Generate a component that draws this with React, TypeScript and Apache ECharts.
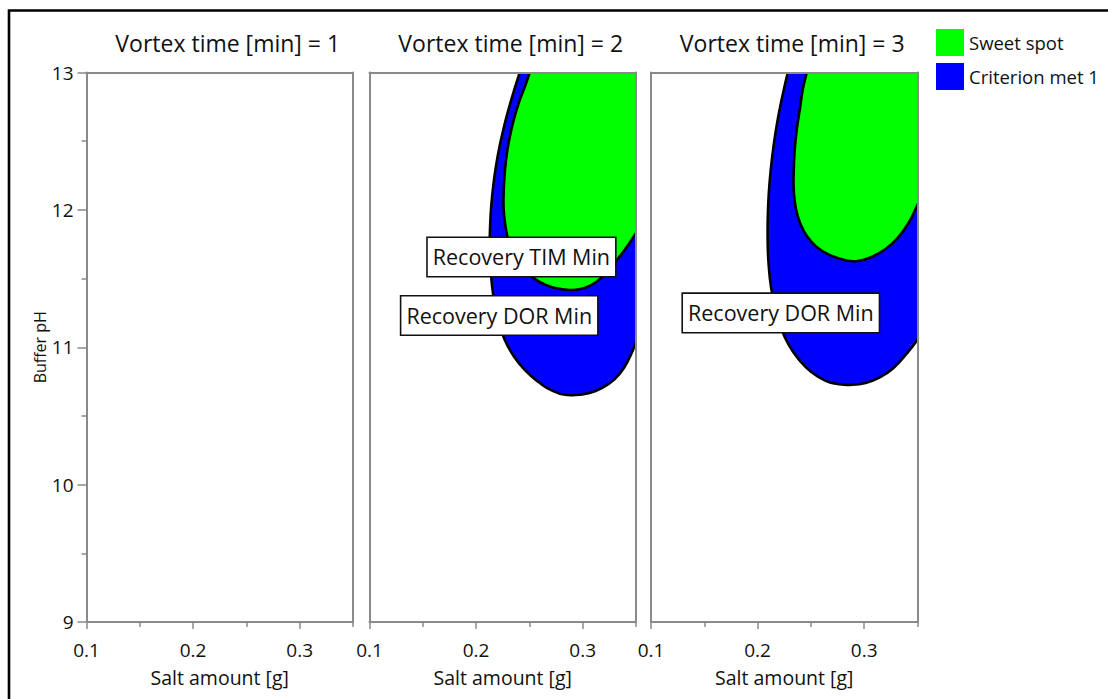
import React, { useEffect, useRef } from 'react';
import * as echarts from 'echarts';

const FONT = "'Open Sans', 'Noto Sans', sans-serif";
const GRAY = '#8a8a8a';
const TXT = '#111111';

// ---- axes / labels ----
const panelTitles = ['Vortex time [min] = 1', 'Vortex time [min] = 2', 'Vortex time [min] = 3'];
const xName = 'Salt amount [g]';
const yName = 'Buffer pH';
const xMin = 0.1;
const xMax = 0.35;
const yMin = 9;
const yMax = 13;
const yInterval = 1;
const xMajorTicks = [0.1, 0.2, 0.3];
const xMinorTicks = [0.15, 0.25, 0.35];
const legendNames = ['Sweet spot', 'Criterion met 1'];
const legendColors = ['#00ff00', '#0000ff'];

// ---- contour outlines (salt amount, buffer pH) ----
// (points past 0.35 or 13 only close the outline outside the plot and are clipped)
// Vortex time = 2, "Criterion met 1"
const v2CritX = [0.2445, 0.2409, 0.2372, 0.2330, 0.2290, 0.2255, 0.2217, 0.2187, 0.2162, 0.2143, 0.2132, 0.2128, 0.2134, 0.2149, 0.2175, 0.2210, 0.2269, 0.2351, 0.2456, 0.2585, 0.2718, 0.2859, 0.2990, 0.3121, 0.3243, 0.3346, 0.3430, 0.3495, 0.3551, 0.3608, 0.3720, 0.3720, 0.2503];
const v2CritY = [13.091, 13.00, 12.909, 12.800, 12.691, 12.582, 12.451, 12.320, 12.181, 12.036, 11.890, 11.745, 11.599, 11.453, 11.308, 11.184, 11.053, 10.937, 10.835, 10.747, 10.682, 10.653, 10.657, 10.682, 10.733, 10.806, 10.910, 11.024, 11.130, 11.250, 11.360, 13.237, 13.237];
// Vortex time = 2, "Sweet spot"
const v2SweetX = [0.2536, 0.2503, 0.2456, 0.2400, 0.2353, 0.2316, 0.2287, 0.2269, 0.2259, 0.2259, 0.2278, 0.2316, 0.2381, 0.2475, 0.2596, 0.2737, 0.2877, 0.3018, 0.3140, 0.3243, 0.3336, 0.3420, 0.3495, 0.3551, 0.3626, 0.3720, 0.3720, 0.2550];
const v2SweetY = [13.091, 13.00, 12.894, 12.778, 12.654, 12.531, 12.400, 12.269, 12.130, 11.999, 11.868, 11.745, 11.635, 11.548, 11.475, 11.432, 11.417, 11.432, 11.483, 11.563, 11.650, 11.737, 11.825, 11.897, 11.999, 12.108, 13.237, 13.237];
// Vortex time = 3, "Criterion met 1"
const v3CritX = [0.2315, 0.2283, 0.2235, 0.2188, 0.2151, 0.2123, 0.2104, 0.2095, 0.2095, 0.2104, 0.2127, 0.2165, 0.2221, 0.2292, 0.2390, 0.2503, 0.2639, 0.2751, 0.2863, 0.3013, 0.3154, 0.3275, 0.3388, 0.3491, 0.3566, 0.3659, 0.3753, 0.3753, 0.2348];
const v3CritY = [13.091, 13.00, 12.836, 12.654, 12.472, 12.290, 12.108, 11.926, 11.745, 11.599, 11.432, 11.286, 11.140, 11.017, 10.908, 10.820, 10.755, 10.733, 10.726, 10.740, 10.784, 10.849, 10.944, 11.046, 11.140, 11.271, 11.381, 13.237, 13.237];
// Vortex time = 3, "Sweet spot"
const v3SweetX = [0.2489, 0.2461, 0.2423, 0.2395, 0.2367, 0.2348, 0.2339, 0.2339, 0.2358, 0.2395, 0.2461, 0.2554, 0.2676, 0.2816, 0.2938, 0.3069, 0.3200, 0.3313, 0.3416, 0.3500, 0.3566, 0.3659, 0.3753, 0.3753, 0.2507];
const v3SweetY = [13.091, 13.00, 12.873, 12.727, 12.582, 12.436, 12.290, 12.145, 12.014, 11.912, 11.810, 11.730, 11.672, 11.635, 11.628, 11.657, 11.715, 11.795, 11.905, 12.036, 12.145, 12.290, 12.400, 13.237, 13.237];

// ---- contour annotations ----
const annText = ['Recovery TIM Min', 'Recovery DOR Min', 'Recovery DOR Min'];
const annPanel = [1, 1, 2];
const annX = [0.2425, 0.2217, 0.2218];
const annY = [11.657, 11.231, 11.25];

const PANEL_LEFT = [86.5, 369.5, 651];
const PANEL_TOP = 72.5;
const PANEL_W = 266.5;
const PANEL_H = 549.5;

function zip(xs: number[], ys: number[]) {
  return xs.map((x, i) => [x, ys[i]]);
}

function regionSeries(name: string, color: string, panel: number, xs: number[], ys: number[]) {
  const pts = zip(xs, ys);
  return {
    type: 'custom',
    name,
    xAxisIndex: panel * 3,
    yAxisIndex: panel * 2,
    clip: true,
    z: 3,
    itemStyle: { color },
    silent: true,
    data: [pts[1]],
    renderItem: (_params: any, api: any) => ({
      type: 'polygon',
      shape: { points: pts.map((p) => api.coord(p)), smooth: 0.5 },
      style: { fill: color, stroke: '#000000', lineWidth: 2.6 },
    }),
  };
}

function annotationSeries(i: number) {
  return {
    type: 'custom',
    name: 'ann' + i,
    xAxisIndex: annPanel[i] * 3,
    yAxisIndex: annPanel[i] * 2,
    clip: false,
    z: 20,
    silent: true,
    data: [[annX[i], annY[i]]],
    renderItem: (_params: any, api: any) => {
      const p = api.coord([api.value(0), api.value(1)]);
      return {
        type: 'text',
        x: p[0],
        y: p[1],
        z2: 50,
        style: {
          text: annText[i],
          fontSize: 21.5,
          fontFamily: FONT,
          fill: TXT,
          align: 'center',
          verticalAlign: 'middle',
          lineHeight: 28,
          backgroundColor: '#ffffff',
          borderColor: '#111111',
          borderWidth: 1.6,
          padding: [5, 5, 5, 5],
        },
      };
    },
  };
}

export default function App() {
  const ref = useRef<HTMLDivElement>(null);

  useEffect(() => {
    if (!ref.current) return;
    const chart = echarts.init(ref.current, undefined, { renderer: 'svg' });

    const lineStyle = { color: GRAY, width: 2 };
    const xAxis: any[] = [];
    const yAxis: any[] = [];
    PANEL_LEFT.forEach((_l, i) => {
      xAxis.push({
        gridIndex: i,
        type: 'value',
        min: xMin,
        max: xMax,
        position: 'bottom',
        z: 10,
        axisLine: { show: true, onZero: false, lineStyle },
        axisTick: { show: true, length: 7, customValues: xMajorTicks, lineStyle: { color: GRAY, width: 1.5 } },
        axisLabel: {
          customValues: xMajorTicks,
          margin: 18,
          fontSize: 19,
          color: TXT,
          fontFamily: FONT,
          formatter: (v: number) => String(v),
        },
        splitLine: { show: false },
        name: xName,
        nameLocation: 'middle',
        nameGap: 45,
        nameTextStyle: { fontSize: 19.5, color: TXT, fontFamily: FONT },
      });
      xAxis.push({
        gridIndex: i,
        type: 'value',
        min: xMin,
        max: xMax,
        position: 'bottom',
        z: 10,
        axisLine: { show: false },
        axisTick: { show: true, length: 5, customValues: xMinorTicks, lineStyle: { color: GRAY, width: 1.5 } },
        axisLabel: { show: false },
        splitLine: { show: false },
      });
      xAxis.push({
        gridIndex: i,
        type: 'value',
        min: xMin,
        max: xMax,
        position: 'top',
        z: 10,
        axisLine: { show: true, onZero: false, lineStyle },
        axisTick: { show: false },
        axisLabel: { show: false },
        splitLine: { show: false },
      });
      yAxis.push({
        gridIndex: i,
        type: 'value',
        min: yMin,
        max: yMax,
        interval: yInterval,
        position: 'left',
        z: 10,
        axisLine: { show: true, onZero: false, lineStyle },
        axisTick: { show: i === 0, length: 9, lineStyle: { color: GRAY, width: 1.5 } },
        minorTick: { show: i === 0, splitNumber: 2, length: 5, lineStyle: { color: GRAY, width: 1.5 } },
        axisLabel: { show: i === 0, margin: 13, fontSize: 19, color: TXT, fontFamily: FONT },
        splitLine: { show: false },
        minorSplitLine: { show: false },
        name: i === 0 ? yName : '',
        nameLocation: 'middle',
        nameGap: 39,
        nameTextStyle: { fontSize: 16, color: TXT, fontFamily: FONT },
      });
      yAxis.push({
        gridIndex: i,
        type: 'value',
        min: yMin,
        max: yMax,
        position: 'right',
        z: 10,
        axisLine: { show: true, onZero: false, lineStyle },
        axisTick: { show: false },
        axisLabel: { show: false },
        splitLine: { show: false },
      });
    });

    const option: any = {
      animation: false,
      backgroundColor: '#ffffff',
      textStyle: { fontFamily: FONT },
      title: panelTitles.map((t, i) => ({
        text: t,
        left: PANEL_LEFT[i] + PANEL_W / 2 + 8,
        top: 31,
        textAlign: 'center',
        padding: 0,
        textStyle: { fontSize: 23, fontWeight: 'normal', color: TXT, fontFamily: FONT },
      })),
      legend: {
        data: legendNames,
        orient: 'vertical',
        left: 936,
        top: 29,
        padding: 0,
        itemWidth: 28,
        itemHeight: 27,
        itemGap: 7,
        icon: 'rect',
        itemStyle: { borderWidth: 0 },
        textStyle: { fontSize: 18.5, color: TXT, fontFamily: FONT },
        selectedMode: false,
      },
      grid: PANEL_LEFT.map((l) => ({ left: l, top: PANEL_TOP, width: PANEL_W, height: PANEL_H, show: false })),
      xAxis,
      yAxis,
      graphic: [
        {
          type: 'rect',
          shape: { x: 9, y: 10.5, width: 1200, height: 800 },
          style: { fill: 'none', stroke: '#000000', lineWidth: 2.6 },
          silent: true,
          z: 100,
        },
      ],
      series: [
        regionSeries(legendNames[1], legendColors[1], 1, v2CritX, v2CritY),
        regionSeries(legendNames[0], legendColors[0], 1, v2SweetX, v2SweetY),
        regionSeries(legendNames[1], legendColors[1], 2, v3CritX, v3CritY),
        regionSeries(legendNames[0], legendColors[0], 2, v3SweetX, v3SweetY),
        annotationSeries(0),
        annotationSeries(1),
        annotationSeries(2),
      ],
    };

    chart.setOption(option);
    return () => chart.dispose();
  }, []);

  return (
    <div
      ref={ref}
      style={{ position: 'fixed', left: 0, top: 0, width: 1108, height: 699, background: '#fff' }}
    />
  );
}
